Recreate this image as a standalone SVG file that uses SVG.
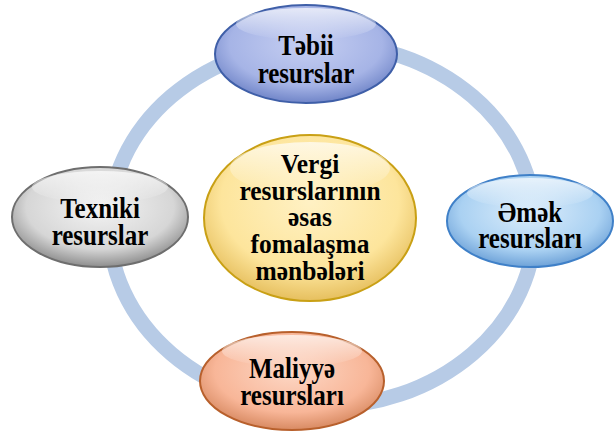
<svg xmlns="http://www.w3.org/2000/svg" width="615" height="434" viewBox="0 0 615 434">
<defs>
<radialGradient id="gBlue" cx="50%" cy="40%" r="60%">
<stop offset="0" stop-color="#c6cff2"/><stop offset="0.7" stop-color="#a6b4e6"/><stop offset="1" stop-color="#7085c8"/>
</radialGradient>
<radialGradient id="gGray" cx="50%" cy="40%" r="60%">
<stop offset="0" stop-color="#f4f4f4"/><stop offset="0.7" stop-color="#d6d6d6"/><stop offset="1" stop-color="#8e8e8e"/>
</radialGradient>
<radialGradient id="gSky" cx="50%" cy="40%" r="60%">
<stop offset="0" stop-color="#dcedfb"/><stop offset="0.7" stop-color="#aad1f2"/><stop offset="1" stop-color="#6ea2d8"/>
</radialGradient>
<radialGradient id="gSalmon" cx="50%" cy="40%" r="60%">
<stop offset="0" stop-color="#fdd8c6"/><stop offset="0.7" stop-color="#f8b698"/><stop offset="1" stop-color="#d88a62"/>
</radialGradient>
<radialGradient id="gYellow" cx="50%" cy="40%" r="60%">
<stop offset="0" stop-color="#fff1c4"/><stop offset="0.7" stop-color="#fde59c"/><stop offset="1" stop-color="#e6bf5e"/>
</radialGradient>
<linearGradient id="gShine" x1="0" y1="0" x2="0" y2="1">
<stop offset="0" stop-color="#ffffff" stop-opacity="0.7"/><stop offset="1" stop-color="#ffffff" stop-opacity="0"/>
</linearGradient>
</defs>
<style>
.ring{fill:none;stroke:#b7cbe6;stroke-width:15}
.t{font-family:"Liberation Serif","Times New Roman",serif;font-weight:bold;font-size:25px;fill:#000;text-anchor:middle}
.tc{font-size:25.5px}
.shine{fill:url(#gShine)}
</style>
<g id="connectors">
<ellipse class="ring" cx="322" cy="225" rx="213" ry="182"/>
</g>
<g id="node-tebii">
<ellipse cx="306" cy="54" rx="91" ry="49" fill="url(#gBlue)" stroke="#3f5fa8" stroke-width="2"/>
<ellipse class="shine" cx="306" cy="24" rx="70" ry="16"/>
<text class="t" transform="matrix(1 0 0 1.15 306 55)">Təbii</text>
<text class="t" transform="matrix(1 0 0 1.15 306 83)">resurslar</text>
</g>
<g id="node-texniki">
<ellipse cx="100" cy="217" rx="88" ry="50" fill="url(#gGray)" stroke="#6e6e6e" stroke-width="2"/>
<ellipse class="shine" cx="100" cy="187" rx="68" ry="16"/>
<text class="t" transform="matrix(1 0 0 1.15 100 218)">Texniki</text>
<text class="t" transform="matrix(1 0 0 1.15 100 245)">resurslar</text>
</g>
<g id="node-emek">
<ellipse cx="530" cy="221" rx="83" ry="46" fill="url(#gSky)" stroke="#3f80c8" stroke-width="2"/>
<ellipse class="shine" cx="530" cy="193" rx="63" ry="15"/>
<text class="t" transform="matrix(1 0 0 1.15 530 222)">Əmək</text>
<text class="t" transform="matrix(1 0 0 1.15 530 248)">resursları</text>
</g>
<g id="node-maliyye">
<ellipse cx="292" cy="381" rx="92" ry="49" fill="url(#gSalmon)" stroke="#b8602c" stroke-width="2"/>
<ellipse class="shine" cx="292" cy="351" rx="70" ry="16"/>
<text class="t" transform="matrix(1 0 0 1.15 292 378)">Maliyyə</text>
<text class="t" transform="matrix(1 0 0 1.15 292 405)">resursları</text>
</g>
<g id="node-center">
<ellipse cx="310" cy="218" rx="106" ry="83" fill="url(#gYellow)" stroke="#c9a015" stroke-width="2"/>
<ellipse class="shine" cx="310" cy="168" rx="80" ry="26"/>
<text class="t tc" transform="matrix(1 0 0 1.1 310 173)">Vergi</text>
<text class="t tc" transform="matrix(1 0 0 1.1 310 200)">resurslarının</text>
<text class="t tc" transform="matrix(1 0 0 1.1 310 226)">əsas</text>
<text class="t tc" transform="matrix(1 0 0 1.1 310 253)">fomalaşma</text>
<text class="t tc" transform="matrix(1 0 0 1.1 310 280)">mənbələri</text>
</g>
</svg>
